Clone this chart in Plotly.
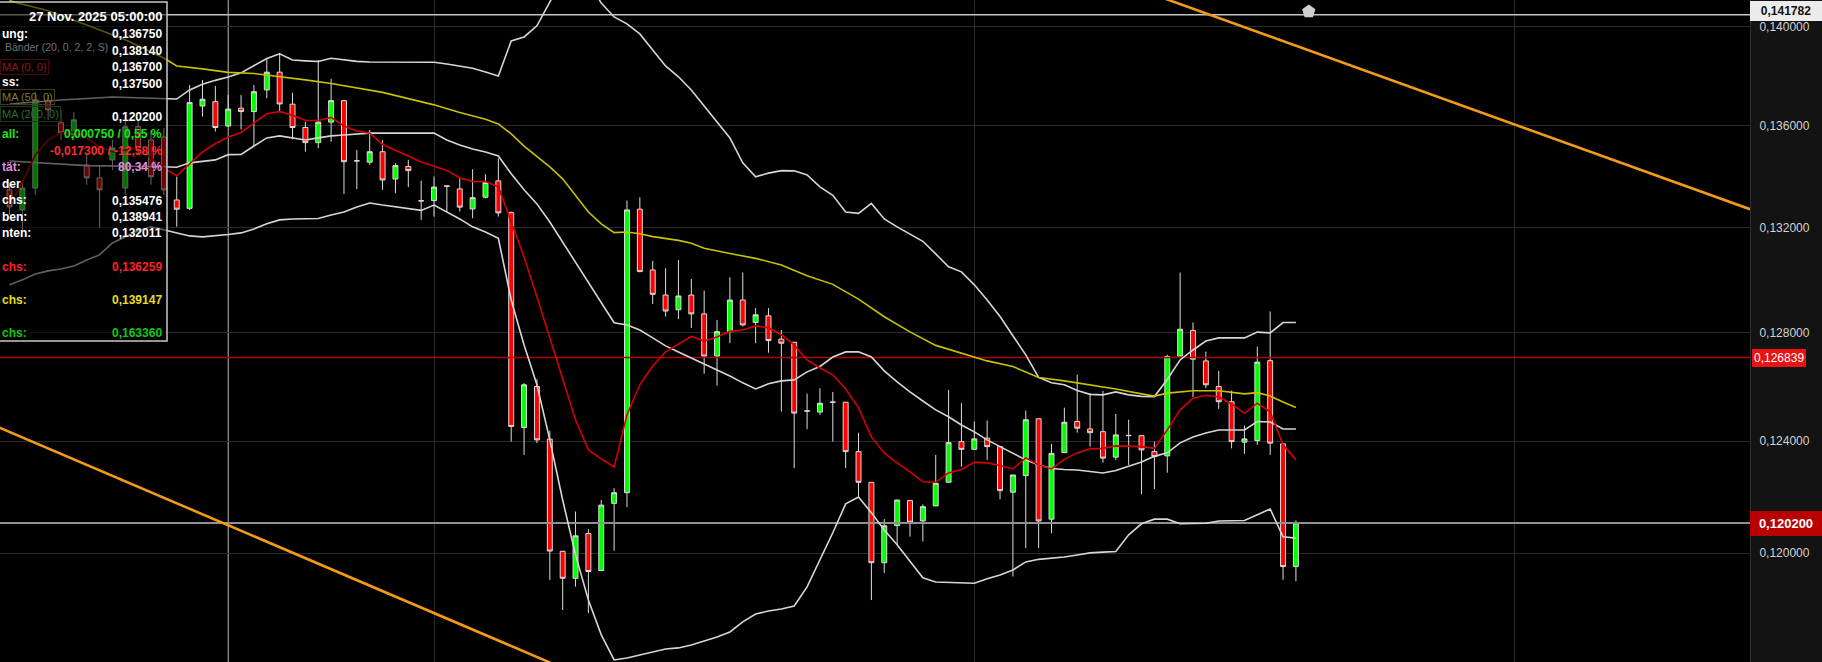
"""4h candle chart with Bollinger bands, two moving averages and trend lines."""

import math

import plotly.graph_objects as go

BACKGROUND = "#000000"
PANEL = "#131313"
GRID = "#2b2b2b"
AXIS_TEXT = "#d2d2d2"
WICK = "#dcdcdc"
UP = "#00ff00"
DOWN = "#ff0000"
BAND = "#d6d6d6"
MA_RED = "#d40000"
MA_YELLOW = "#c9c000"
TREND = "#f29a1a"
FONT = "Liberation Sans, Arial, sans-serif"

PLOT_W = 1750
PLOT_H = 662

# candle index 0 is the first bar right of the info box, bars are 4 hours apart
CANDLE_X = list(range(-13, 88))
OPEN = [
    0.13394, 0.13307, 0.13402, 0.13786, 0.13689, 0.13635, 0.13503, 0.13446, 0.13525, 0.13402,
    0.13671, 0.13613, 0.13626,
    0.13350, 0.13314, 0.13764, 0.13783, 0.13675, 0.13754, 0.13739, 0.13836, 0.13916, 0.13772,
    0.13668, 0.13601, 0.13692, 0.13788, 0.13520, 0.13515, 0.13561, 0.13441, 0.13496, 0.13347,
    0.13347, 0.13411, 0.13398, 0.13311, 0.13362, 0.13433, 0.13295, 0.12399, 0.12565, 0.12352,
    0.11910, 0.11806, 0.11979, 0.11836, 0.12097, 0.12139, 0.13310, 0.13050, 0.12944, 0.12882,
    0.12944, 0.12865, 0.12690, 0.12791, 0.12923, 0.12829, 0.12857, 0.12760, 0.12747, 0.12466,
    0.12461, 0.12502, 0.12501, 0.12302, 0.12180, 0.11866, 0.12010, 0.12108, 0.12028, 0.12087,
    0.12180, 0.12342, 0.12311, 0.12356, 0.12322, 0.12141, 0.12207, 0.12434, 0.12035, 0.12298,
    0.12423, 0.12393, 0.12382, 0.12280, 0.12366, 0.12366, 0.12302, 0.12285, 0.12690, 0.12796,
    0.12670, 0.12565, 0.12503, 0.12340, 0.12346, 0.12671, 0.12333, 0.11851,
]
HIGH = [
    0.13424, 0.13437, 0.13827, 0.13813, 0.13746, 0.13737, 0.13547, 0.13503, 0.13613, 0.13702,
    0.13702, 0.13657, 0.13666,
    0.13452, 0.13858, 0.13881, 0.13854, 0.13814, 0.13813, 0.13858, 0.13975, 0.14004, 0.13824,
    0.13694, 0.13971, 0.13886, 0.13790, 0.13569, 0.13657, 0.13613, 0.13510, 0.13525, 0.13434,
    0.13452, 0.13412, 0.13445, 0.13484, 0.13462, 0.13532, 0.13300, 0.12579, 0.12595, 0.12386,
    0.11912, 0.12065, 0.11996, 0.12110, 0.12157, 0.13347, 0.13362, 0.13088, 0.13057, 0.13092,
    0.13012, 0.12963, 0.12840, 0.13019, 0.13039, 0.12889, 0.12889, 0.12798, 0.12748, 0.12536,
    0.12558, 0.12543, 0.12502, 0.12378, 0.12181, 0.12035, 0.12111, 0.12109, 0.12093, 0.12289,
    0.12551, 0.12497, 0.12423, 0.12427, 0.12323, 0.12210, 0.12467, 0.12435, 0.12333, 0.12479,
    0.12613, 0.12538, 0.12547, 0.12453, 0.12430, 0.12367, 0.12342, 0.12695, 0.13039, 0.12829,
    0.12708, 0.12629, 0.12548, 0.12407, 0.12729, 0.12875, 0.12334, 0.12030,
]
LOW = [
    0.13285, 0.13221, 0.13372, 0.13702, 0.13613, 0.13613, 0.13416, 0.13230, 0.13481, 0.13372,
    0.13547, 0.13416, 0.13372,
    0.13235, 0.13307, 0.13717, 0.13650, 0.13670, 0.13660, 0.13586, 0.13798, 0.13739, 0.13616,
    0.13561, 0.13576, 0.13605, 0.13376, 0.13397, 0.13503, 0.13394, 0.13379, 0.13406, 0.13264,
    0.13278, 0.13300, 0.13300, 0.13271, 0.13357, 0.13278, 0.12342, 0.12289, 0.12336, 0.11800,
    0.11685, 0.11774, 0.11673, 0.11835, 0.11912, 0.12082, 0.13040, 0.12907, 0.12854, 0.12843,
    0.12806, 0.12617, 0.12569, 0.12743, 0.12812, 0.12743, 0.12704, 0.12463, 0.12236, 0.12392,
    0.12450, 0.12342, 0.12236, 0.12123, 0.11723, 0.11826, 0.11935, 0.11967, 0.11948, 0.12086,
    0.12180, 0.12242, 0.12310, 0.12269, 0.12113, 0.11813, 0.11922, 0.11922, 0.11980, 0.12297,
    0.12378, 0.12322, 0.12258, 0.12269, 0.12249, 0.12133, 0.12153, 0.12218, 0.12690, 0.12522,
    0.12558, 0.12474, 0.12315, 0.12293, 0.12329, 0.12289, 0.11800, 0.11794,
]
CLOSE = [
    0.13320, 0.13402, 0.13791, 0.13746, 0.13644, 0.13702, 0.13446, 0.13394, 0.13577, 0.13671,
    0.13577, 0.13451, 0.13394,
    0.13310, 0.13779, 0.13794, 0.13668, 0.13750, 0.13739, 0.13828, 0.13916, 0.13773, 0.13668,
    0.13601, 0.13692, 0.13788, 0.13517, 0.13521, 0.13561, 0.13437, 0.13500, 0.13478, 0.13346,
    0.13406, 0.13410, 0.13319, 0.13360, 0.13426, 0.13294, 0.12403, 0.12572, 0.12349, 0.11911,
    0.11806, 0.11970, 0.11832, 0.12090, 0.12139, 0.13307, 0.13043, 0.12947, 0.12877, 0.12940,
    0.12865, 0.12690, 0.12791, 0.12923, 0.12819, 0.12861, 0.12754, 0.12743, 0.12457, 0.12465,
    0.12497, 0.12501, 0.12302, 0.12180, 0.11866, 0.12009, 0.12110, 0.12023, 0.12084, 0.12176,
    0.12338, 0.12311, 0.12353, 0.12322, 0.12147, 0.12209, 0.12430, 0.12028, 0.12295, 0.12420,
    0.12396, 0.12378, 0.12276, 0.12369, 0.12367, 0.12309, 0.12282, 0.12688, 0.12801, 0.12677,
    0.12572, 0.12503, 0.12342, 0.12353, 0.12665, 0.12336, 0.11851, 0.12020,
]

BB_UPPER_X = [-13, -9, -5, -1] + list(range(0, 88))
BB_UPPER = [
    0.13773, 0.13791, 0.13804, 0.13795,
    0.13795, 0.13836, 0.13861, 0.13879, 0.13894, 0.13913, 0.13944, 0.13978, 0.13999, 0.13971,
    0.13967, 0.13964, 0.13979, 0.13971, 0.13965, 0.13962, 0.13962, 0.13962, 0.13962, 0.13961,
    0.13961, 0.13953, 0.13942, 0.13934, 0.13917, 0.13899, 0.14058, 0.14076, 0.14127, 0.14237,
    0.14347, 0.14393, 0.14329, 0.14232, 0.14168, 0.14136, 0.14090, 0.14017, 0.13944, 0.13895,
    0.13836, 0.13764, 0.13695, 0.13622, 0.13512, 0.13451, 0.13467, 0.13478, 0.13477, 0.13459,
    0.13407, 0.13370, 0.13298, 0.13292, 0.13335, 0.13268, 0.13234, 0.13204, 0.13172, 0.13118,
    0.13063, 0.13042, 0.12987, 0.12923, 0.12854, 0.12774, 0.12695, 0.12602, 0.12580, 0.12572,
    0.12549, 0.12533, 0.12531, 0.12543, 0.12531, 0.12525, 0.12524, 0.12594, 0.12674, 0.12715,
    0.12752, 0.12765, 0.12765, 0.12765, 0.12789, 0.12786, 0.12829, 0.12829,
]
BB_MID_X = [-13, -7, -1] + list(range(0, 88))
BB_MID = [
    0.13520, 0.13500, 0.13495,
    0.13493, 0.13512, 0.13520, 0.13525, 0.13548, 0.13549, 0.13586, 0.13622, 0.13631, 0.13622,
    0.13613, 0.13622, 0.13631, 0.13635, 0.13640, 0.13643, 0.13643, 0.13643, 0.13643, 0.13643,
    0.13643, 0.13613, 0.13591, 0.13573, 0.13560, 0.13542, 0.13464, 0.13394, 0.13333, 0.13255,
    0.13169, 0.13084, 0.12995, 0.12911, 0.12828, 0.12819, 0.12798, 0.12765, 0.12732, 0.12707,
    0.12682, 0.12658, 0.12633, 0.12608, 0.12580, 0.12555, 0.12576, 0.12588, 0.12592, 0.12625,
    0.12647, 0.12686, 0.12707, 0.12708, 0.12686, 0.12629, 0.12584, 0.12543, 0.12506, 0.12470,
    0.12442, 0.12409, 0.12381, 0.12349, 0.12322, 0.12297, 0.12269, 0.12249, 0.12235, 0.12231,
    0.12229, 0.12223, 0.12217, 0.12227, 0.12245, 0.12261, 0.12283, 0.12297, 0.12337, 0.12361,
    0.12377, 0.12389, 0.12389, 0.12389, 0.12423, 0.12421, 0.12393, 0.12393,
]
BB_LOWER_X = list(range(-13, 88))
BB_LOWER = [
    0.12987, 0.13008, 0.13033, 0.13046, 0.13054, 0.13067, 0.13092, 0.13114, 0.13165, 0.13191,
    0.13217, 0.13234, 0.13221,
    0.13208, 0.13195, 0.13191, 0.13195, 0.13201, 0.13208, 0.13225, 0.13247, 0.13264, 0.13268,
    0.13268, 0.13270, 0.13285, 0.13298, 0.13320, 0.13337, 0.13328, 0.13320, 0.13313, 0.13305,
    0.13328, 0.13298, 0.13268, 0.13234, 0.13212, 0.13185, 0.12923, 0.12736, 0.12572, 0.12349,
    0.12110, 0.11896, 0.11723, 0.11591, 0.11497, 0.11504, 0.11516, 0.11527, 0.11538, 0.11542,
    0.11553, 0.11568, 0.11583, 0.11602, 0.11640, 0.11670, 0.11681, 0.11689, 0.11700, 0.11773,
    0.11877, 0.11982, 0.12095, 0.12122, 0.12060, 0.11993, 0.11935, 0.11873, 0.11808, 0.11792,
    0.11790, 0.11788, 0.11787, 0.11804, 0.11819, 0.11838, 0.11869, 0.11879, 0.11884, 0.11888,
    0.11896, 0.11904, 0.11907, 0.11909, 0.11974, 0.12017, 0.12035, 0.12035, 0.12017, 0.12017,
    0.12019, 0.12028, 0.12030, 0.12030, 0.12052, 0.12075, 0.11966, 0.11961,
]
MA_FAST_X = list(range(-13, 88))
MA_FAST = [
    0.13328, 0.13429, 0.13547, 0.13613, 0.13644, 0.13648, 0.13622, 0.13582, 0.13560, 0.13569,
    0.13577, 0.13534, 0.13490,
    0.13455, 0.13507, 0.13560, 0.13597, 0.13626, 0.13646, 0.13689, 0.13729, 0.13739, 0.13722,
    0.13700, 0.13699, 0.13713, 0.13675, 0.13653, 0.13643, 0.13593, 0.13569, 0.13542, 0.13516,
    0.13496, 0.13479, 0.13446, 0.13431, 0.13430, 0.13407, 0.13255, 0.13105, 0.12936, 0.12765,
    0.12600, 0.12430, 0.12309, 0.12273, 0.12241, 0.12450, 0.12572, 0.12649, 0.12707, 0.12740,
    0.12771, 0.12752, 0.12769, 0.12792, 0.12798, 0.12815, 0.12807, 0.12778, 0.12736, 0.12674,
    0.12641, 0.12613, 0.12555, 0.12478, 0.12361, 0.12297, 0.12257, 0.12221, 0.12182, 0.12180,
    0.12217, 0.12231, 0.12259, 0.12257, 0.12247, 0.12233, 0.12277, 0.12249, 0.12233, 0.12271,
    0.12297, 0.12313, 0.12315, 0.12325, 0.12325, 0.12322, 0.12315, 0.12389, 0.12470, 0.12517,
    0.12529, 0.12523, 0.12494, 0.12456, 0.12497, 0.12462, 0.12329, 0.12269,
]
MA_50_X = (
    [-13, -10, -7, -4, -1] + list(range(0, 25, 2)) + list(range(25, 42))
    + list(range(43, 76, 2)) + [76, 77, 79, 81, 83, 84, 85, 86, 87]
)
MA_50 = [
    0.14242, 0.14196, 0.14131, 0.14063, 0.13980,
    0.13944, 0.13931, 0.13915, 0.13910, 0.13897, 0.13881, 0.13865, 0.13845, 0.13825, 0.13797,
    0.13769, 0.13735, 0.13705,
    0.13684, 0.13640, 0.13586, 0.13538, 0.13494, 0.13442, 0.13372, 0.13298, 0.13247, 0.13209,
    0.13212, 0.13204, 0.13192, 0.13184, 0.13176, 0.13164, 0.13142,
    0.13120, 0.13099, 0.13071, 0.13025, 0.12989, 0.12927, 0.12853, 0.12790, 0.12734, 0.12703,
    0.12670, 0.12647, 0.12602, 0.12588, 0.12572, 0.12555, 0.12535,
    0.12526, 0.12538, 0.12548, 0.12548, 0.12535, 0.12540, 0.12526, 0.12502, 0.12480,
]

TREND_UPPER_X = [76, 122.3]
TREND_UPPER = [0.14270, 0.13310]
TREND_LOWER_X = [-14, 30]
TREND_LOWER = [0.12403, 0.11467]

TOP_LEVEL = 0.141782
RED_LEVEL = 0.126839
LAST_PRICE = 0.120200
CROSSHAIR_X = 4
WEEK_LINES_X = [20, 62, 104]
MARKER_X = 88

GRID_TICKS = [0.120, 0.124, 0.128, 0.132, 0.136, 0.140]
GRID_LABELS = ["0,120000", "0,124000", "0,128000", "0,132000", "0,136000", "0,140000"]

TOOLTIP_DATE = "27 Nov. 2025 05:00:00"
TOOLTIP_VALUES = [
    "0,136750", "0,138140", "0,136700", "0,137500", "0,120200",
    "0,000750 / 0,55 %", "-0,017300 / -12,58 %", "80,34 %",
    "0,135476", "0,138941", "0,132011", "0,136259", "0,139147", "0,163360",
]
TOOLTIP_LABELS = ["ung:", "ss:", "all:", "tät:", "der", "chs:", "ben:", "nten:", "chs:", "chs:", "chs:"]
LEGEND_NAMES = ["Bänder (20, 0, 2, 2, S)", "MA (0, 0)", "MA (50, 0)", "MA (200, 0)"]


def _px(x):
    return x / PLOT_W


def _py(y):
    return 1 - y / PLOT_H


def _line(x, y, color, width):
    return go.Scatter(
        x=x, y=y, mode="lines", line={"color": color, "width": width},
        hoverinfo="skip", showlegend=False,
    )


def _text(text, x, y, color, anchor, size=12, bold=True, border=None):
    item = dict(
        text="<b>%s</b>" % text if bold else text,
        x=_px(x), y=_py(y), xref="paper", yref="paper",
        xanchor=anchor, yanchor="middle", showarrow=False,
        font={"family": FONT, "size": size, "color": color},
    )
    if border:
        item.update(bordercolor=border, borderwidth=1, borderpad=1)
    return item


def tooltip_annotations():
    value_rows = [34, 51, 67, 84, 117, 134, 151, 167, 201, 217, 233, 267, 300, 333]
    value_colors = ["#ffffff"] * 5 + ["#19e619", "#ff2a2a", "#e08ee0"] + ["#ffffff"] * 3 + [
        "#ff2020", "#e6df1a", "#12c812"]
    label_rows = [34, 82, 134, 167, 184, 200, 217, 233, 267, 300, 333]
    label_colors = ["#ffffff", "#ffffff", "#19e619", "#e08ee0", "#ffffff", "#ffffff",
                    "#ffffff", "#ffffff", "#ff2020", "#e6df1a", "#12c812"]
    # chart legend sitting under the info box, so drawn dimmed
    legend = [(3, 47, 10.5, "#707070", None), (0, 67, 11, "#8c1818", "#4a0a0a"),
              (0, 97, 11, "#7d7a2a", "#3d3c14"), (0, 114, 11, "#2a6d2a", "#163a16")]

    items = []
    for name, (x, y, size, color, border) in zip(LEGEND_NAMES, legend):
        items.append(_text(name, x, y, color, "left", size=size, bold=False, border=border))
    items.append(_text(TOOLTIP_DATE, 164, 17, "#ffffff", "right", size=13))
    for text, y, color in zip(TOOLTIP_VALUES, value_rows, value_colors):
        items.append(_text(text, 164, y, color, "right"))
    for text, y, color in zip(TOOLTIP_LABELS, label_rows, label_colors):
        items.append(_text(text, 0, y, color, "left"))
    return items


def price_tags():
    tag = dict(xref="paper", yref="y", x=1, xanchor="left", yanchor="middle", showarrow=False)
    return [
        dict(tag, y=math.log10(TOP_LEVEL), yshift=4, text="<b>0,141782</b>", bgcolor="#ececec",
             width=66, borderpad=3, borderwidth=0,
             font={"family": FONT, "size": 12, "color": "#111111"}),
        dict(tag, y=math.log10(RED_LEVEL), xshift=2, text="0,126839", bgcolor="#ea1212",
             borderpad=2, borderwidth=0, font={"family": FONT, "size": 12, "color": "#ffffff"}),
        dict(tag, y=math.log10(LAST_PRICE), text="<b>0,120200</b>", bgcolor="#b80000",
             width=66, height=19, borderpad=3, borderwidth=0,
             font={"family": FONT, "size": 13, "color": "#ffffff"}),
    ]


fig = go.Figure()
fig.add_trace(go.Candlestick(
    x=CANDLE_X, open=OPEN, high=HIGH, low=LOW, close=CLOSE,
    increasing={"fillcolor": UP, "line": {"color": WICK, "width": 1}},
    decreasing={"fillcolor": DOWN, "line": {"color": WICK, "width": 1}},
    whiskerwidth=0, hoverinfo="skip", showlegend=False,
))
span = [-14, 123]
fig.add_trace(_line(span, [TOP_LEVEL, TOP_LEVEL], "#c4c4c4", 1.5))
fig.add_trace(_line(span, [RED_LEVEL, RED_LEVEL], "#b00000", 1.5))
fig.add_trace(_line(span, [LAST_PRICE, LAST_PRICE], "#909090", 1.8))
fig.add_trace(_line(BB_UPPER_X, BB_UPPER, BAND, 1.6))
fig.add_trace(_line(BB_MID_X, BB_MID, BAND, 1.6))
fig.add_trace(_line(BB_LOWER_X, BB_LOWER, BAND, 1.6))
fig.add_trace(_line(MA_50_X, MA_50, MA_YELLOW, 1.6))
fig.add_trace(_line(MA_FAST_X, MA_FAST, MA_RED, 1.6))
fig.add_trace(_line(TREND_UPPER_X, TREND_UPPER, TREND, 2.6))
fig.add_trace(_line(TREND_LOWER_X, TREND_LOWER, TREND, 2.6))
fig.add_trace(go.Scatter(
    x=[MARKER_X], y=[0.14193], mode="markers", hoverinfo="skip", showlegend=False,
    marker={"symbol": "pentagon", "size": 14, "color": "#cfcfcf"},
))
# carries the price scale on the right
fig.add_trace(go.Scatter(
    x=[0], y=[0.13], yaxis="y2", mode="markers", marker={"opacity": 0},
    hoverinfo="skip", showlegend=False,
))

fig.update_layout(
    width=1822,
    height=662,
    autosize=False,
    margin={"l": 0, "r": 72, "t": 0, "b": 0},
    paper_bgcolor=PANEL,
    plot_bgcolor=BACKGROUND,
    font={"family": FONT, "color": AXIS_TEXT},
    showlegend=False,
    boxgap=0.45,
    hovermode=False,
    xaxis={
        "range": [-13.74, 122.3], "rangeslider": {"visible": False},
        "tickmode": "array", "tickvals": WEEK_LINES_X, "showticklabels": False,
        "showgrid": True, "gridcolor": GRID, "zeroline": False, "showline": False,
        "ticks": "", "fixedrange": True,
    },
    yaxis={
        "type": "log", "range": [math.log10(0.114893), math.log10(0.142461)],
        "showticklabels": False, "showgrid": False, "zeroline": False,
        "ticks": "", "fixedrange": True,
    },
    yaxis2={
        "type": "log", "overlaying": "y", "side": "right",
        "range": [math.log10(0.11623), math.log10(0.141095)],
        "tickmode": "array", "tickvals": GRID_TICKS, "ticktext": GRID_LABELS,
        "showgrid": True, "gridcolor": GRID, "zeroline": False,
        "showline": True, "linecolor": "#2e2e2e", "linewidth": 1,
        "ticks": "", "ticklabelstandoff": 6,
        "tickfont": {"family": FONT, "size": 12, "color": AXIS_TEXT},
        "fixedrange": True,
    },
    shapes=[
        dict(type="line", xref="x", yref="paper", x0=CROSSHAIR_X, x1=CROSSHAIR_X, y0=0, y1=1,
             line={"color": "#bdbdbd", "width": 1}, layer="below"),
        dict(type="rect", xref="paper", yref="paper", x0=-0.01, x1=_px(167),
             y0=_py(341), y1=_py(2), fillcolor="rgba(0,0,0,0.55)",
             line={"color": "#c8c8c8", "width": 1.5}, layer="above"),
    ],
    annotations=tooltip_annotations() + price_tags(),
)

# the page's default body margin would push the chart off the window edges
fig.write_html(
    "out.html",
    config={"displayModeBar": False},
    post_script="document.body.style.margin = '0'; document.body.style.overflow = 'hidden';",
)
